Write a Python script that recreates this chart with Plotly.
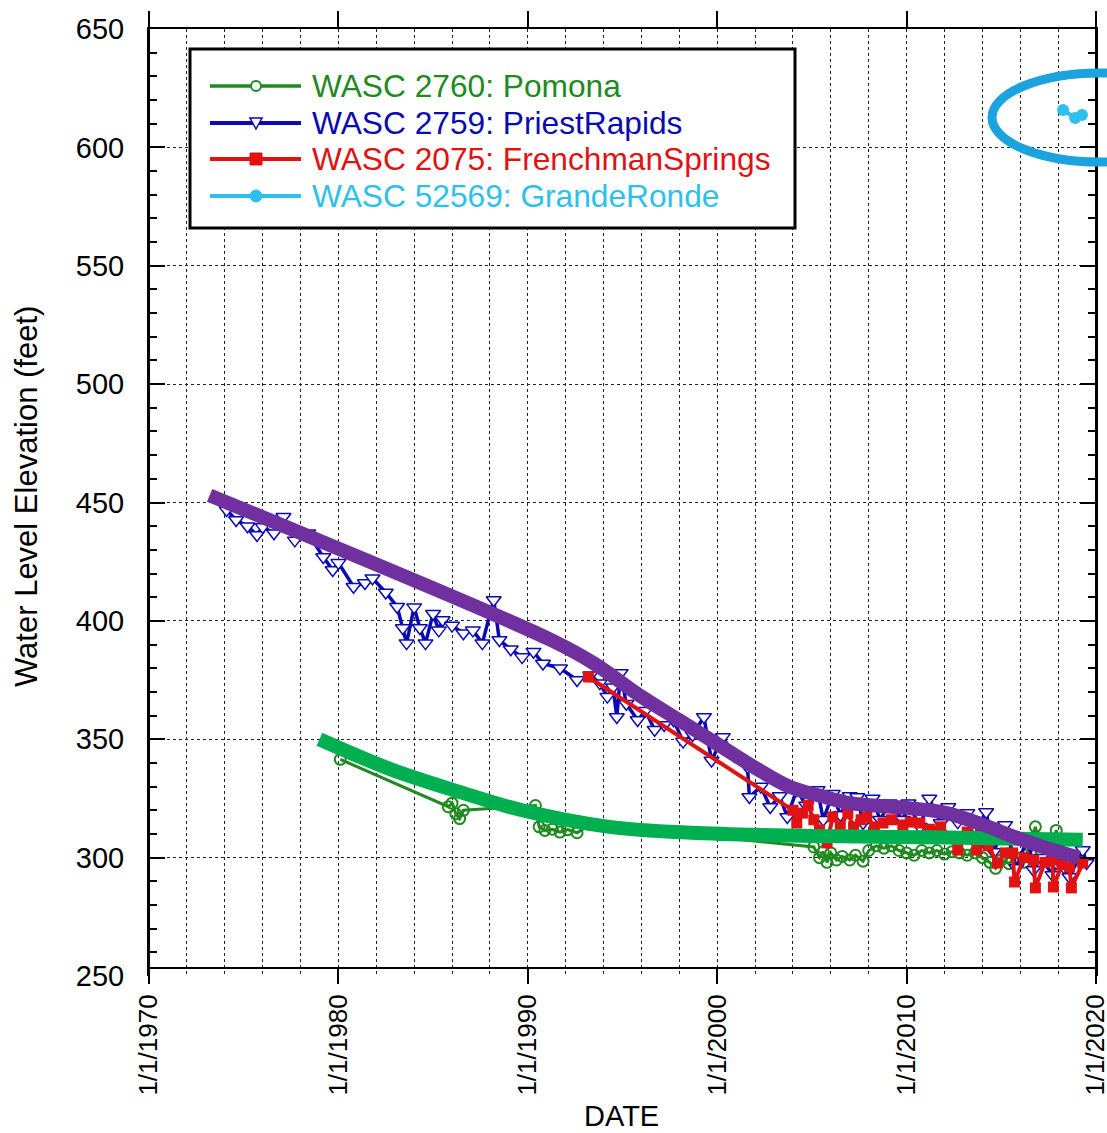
import plotly.graph_objects as go

# ---------------- data (decimal years, feet) ----------------
pomona_x = [1980.1, 1985.8, 1986.0, 1986.2, 1986.4, 1986.6,
            1990.4, 1990.6, 1990.9, 1991.3, 1991.7, 1992.1, 1992.6, 1993.3,
            2005.1, 2005.4, 2005.6, 2005.8, 2006.0, 2006.3, 2006.6, 2007.0, 2007.3, 2007.7,
            2008.0, 2008.4, 2008.8, 2009.2, 2009.6, 2010.0, 2010.4, 2010.8, 2011.2, 2011.6,
            2012.0, 2012.4, 2012.8, 2013.2, 2013.6, 2014.0, 2014.4, 2014.7, 2015.0, 2015.4,
            2015.8, 2016.2, 2016.5, 2016.8, 2017.1, 2017.5, 2017.9, 2018.2, 2018.6]
pomona_y = [341.5, 321.5, 323.0, 318.5, 316.5, 320.0,
            322.0, 313.0, 311.5, 312.0, 310.8, 311.8, 310.5, 314.0,
            304.5, 300.0, 302.5, 298.0, 302.0, 299.0, 300.5, 299.0, 301.0, 298.5,
            303.0, 305.0, 304.0, 305.0, 303.0, 302.0, 301.0, 303.0, 302.0, 303.0,
            301.5, 302.5, 302.0, 301.0, 302.0, 300.0, 298.0, 295.5, 299.0, 297.5,
            300.0, 298.0, 305.0, 313.0, 303.0, 299.0, 311.5, 302.0, 299.0]

priest_x = [1974.1, 1974.6, 1975.2, 1975.7, 1976.0, 1976.6, 1977.1, 1977.7, 1978.4, 1979.2,
            1979.7, 1980.0, 1980.8, 1981.4, 1981.8, 1982.5, 1983.1, 1983.4, 1983.6, 1984.0,
            1984.3, 1984.6, 1985.0, 1985.3, 1985.5, 1986.0, 1986.6, 1987.1, 1987.6, 1988.2,
            1988.5, 1989.1, 1989.7, 1990.3, 1990.8, 1991.7, 1992.6, 1993.3, 1993.8, 1994.2,
            1994.5, 1994.7, 1994.9, 1995.2, 1995.8, 1996.2, 1996.7, 1997.2, 1997.7, 1998.2,
            1998.7, 1999.3, 1999.7, 2000.3, 2000.9, 2001.6, 2001.7, 2002.3, 2002.8, 2003.3,
            2003.7, 2004.2, 2004.7, 2005.3, 2005.6, 2006.1, 2006.5, 2007.0, 2007.4, 2007.7,
            2008.2, 2008.6, 2009.1, 2009.8, 2010.1, 2010.7, 2011.2, 2011.8, 2012.2, 2012.7,
            2013.2, 2013.7, 2014.2, 2014.6, 2015.2, 2015.8, 2016.4, 2016.7, 2017.1, 2017.7,
            2017.9, 2018.3, 2018.6, 2019.3, 2019.5]
priest_y = [446.8, 442.6, 440.0, 436.3, 439.7, 437.0, 444.0, 434.0, 437.0, 427.0,
            421.5, 424.5, 414.4, 416.0, 418.0, 412.0, 406.0, 397.0, 390.6, 405.8,
            397.0, 390.6, 403.0, 396.0, 400.4, 398.0, 394.8, 396.0, 390.6, 408.8,
            391.9, 388.0, 384.7, 387.0, 382.0, 380.0, 375.0, 377.0, 373.7, 368.0,
            372.0, 359.4, 378.0, 365.0, 358.1, 362.0, 354.0, 356.0, 358.0, 349.0,
            351.8, 359.4, 341.0, 351.0, 343.0, 338.3, 325.6, 330.0, 321.4, 326.0,
            317.2, 328.6, 322.0, 328.6, 316.0, 327.0, 318.0, 326.0, 325.6, 314.6,
            325.0, 316.0, 323.0, 316.0, 323.0, 313.0, 325.0, 314.6, 321.4, 315.0,
            318.8, 312.0, 319.3, 302.4, 313.8, 295.6, 308.7, 294.8, 300.0, 292.7,
            297.7, 296.0, 291.8, 303.2, 297.7]

french_x = [1993.2, 2004.0, 2004.2, 2004.5, 2004.8, 2005.1, 2005.4, 2005.8, 2006.1, 2006.5,
            2006.9, 2007.2, 2007.6, 2007.9, 2008.3, 2008.75, 2009.2, 2009.8, 2010.2, 2010.7,
            2011.2, 2011.8, 2012.3, 2012.7, 2013.2, 2013.7, 2013.9, 2014.3, 2014.8, 2015.2,
            2015.6, 2015.7, 2016.2, 2016.7, 2016.8, 2017.3, 2017.7, 2017.75, 2018.2, 2018.6,
            2018.7, 2019.3]
french_y = [376.3, 320.0, 314.6, 318.8, 322.0, 316.0, 311.7, 306.2, 317.2, 313.0,
            318.8, 313.0, 316.0, 317.2, 313.0, 314.6, 316.0, 313.8, 315.0, 314.6,
            312.0, 313.0, 309.0, 303.2, 310.8, 303.2, 310.4, 305.0, 297.7, 302.0,
            302.0, 289.7, 300.0, 299.0, 287.2, 298.0, 299.0, 287.6, 297.0, 296.0,
            287.2, 297.7]

grande_x = [2018.26, 2018.9, 2019.26]
grande_y = [615.8, 612.4, 613.7]

# hand-drawn trend lines
purple_x = [1973.2, 1991.2, 1993.5, 1996.0, 1998.0, 2000.0, 2002.0, 2003.8, 2005.5,
            2007.0, 2010.0, 2012.0, 2014.0, 2015.6, 2017.4, 2019.1]
purple_y = [453.0, 392.0, 382.0, 368.0, 358.0, 348.0, 338.0, 330.0, 326.0,
            323.0, 321.0, 319.0, 314.0, 309.0, 304.0, 300.0]
green_x = [1979.0, 1982.7, 1986.3, 1989.7, 1994.3, 1998.6, 2006.5, 2012.0, 2019.3]
green_y = [350.0, 337.5, 328.0, 320.0, 313.0, 310.5, 309.0, 308.5, 307.5]

names = ["WASC 2760: Pomona", "WASC 2759: PriestRapids",
         "WASC 2075: FrenchmanSprings", "WASC 52569: GrandeRonde"]
x_ticks = [1970, 1980, 1990, 2000, 2010, 2020]

C_GREEN = "#1F8A1F"
C_BLUE = "#0A0AB4"
C_RED = "#E01212"
C_CYAN = "#2EC0EC"
C_PURPLE = "#7030A0"
C_TREND_GREEN = "#00B050"
C_ELLIPSE = "#1BA3E0"
FONT = "Liberation Sans, Arial, sans-serif"

# ---------------- figure geometry ----------------
W, H = 1107, 1133
L, R, T, B = 149, 11, 29, 157
PW, PH = W - L - R, H - T - B


def px(x):
    return (x - L) / PW


def py(y):
    return (H - B - y) / PH


fig = go.Figure()

fig.add_trace(go.Scatter(x=pomona_x, y=pomona_y, mode="lines+markers", name=names[0],
                         line=dict(color=C_GREEN, width=3),
                         marker=dict(symbol="circle-open", size=11, color=C_GREEN,
                                     line=dict(width=2, color=C_GREEN))))
fig.add_trace(go.Scatter(x=priest_x, y=priest_y, mode="lines+markers", name=names[1],
                         line=dict(color=C_BLUE, width=3.5),
                         marker=dict(symbol="triangle-down", size=13, color="white",
                                     line=dict(width=1.5, color=C_BLUE))))
fig.add_trace(go.Scatter(x=french_x, y=french_y, mode="lines+markers", name=names[2],
                         line=dict(color=C_RED, width=4),
                         marker=dict(symbol="square", size=11, color=C_RED)))
fig.add_trace(go.Scatter(x=grande_x, y=grande_y, mode="lines+markers", name=names[3],
                         xaxis="x2",
                         line=dict(color=C_CYAN, width=4),
                         marker=dict(symbol="circle", size=12, color=C_CYAN)))
fig.add_trace(go.Scatter(x=green_x, y=green_y, mode="lines", showlegend=False,
                         line=dict(color=C_TREND_GREEN, width=14, shape="spline")))
fig.add_trace(go.Scatter(x=purple_x, y=purple_y, mode="lines", showlegend=False,
                         line=dict(color=C_PURPLE, width=14, shape="spline")))

grid = dict(gridcolor="#222222", griddash="dot", gridwidth=1.2)

fig.update_layout(
    width=W, height=H, showlegend=False,
    margin=dict(l=L, r=R, t=T, b=B, autoexpand=False),
    paper_bgcolor="white", plot_bgcolor="white",
    font=dict(family=FONT, color="black"),
    xaxis=dict(range=[1970, 2020], tickmode="array", tickvals=x_ticks,
               ticktext=["1/1/%d" % v for v in x_ticks], tickangle=-90,
               tickfont=dict(size=26, family=FONT), ticks="outside", ticklen=15,
               tickwidth=2, tickcolor="black", showline=True, linecolor="black",
               linewidth=2, anchor="free", position=8 / PH, ticklabelstandoff=0,
               ticklabeloverflow="allow",
               showgrid=True, **grid,
               minor=dict(tickmode="linear", tick0=1970, dtick=2, showgrid=True,
                          gridcolor="#222222", griddash="dot", gridwidth=1.2, ticks=""),
               zeroline=False),
    xaxis2=dict(range=[1970, 2020], overlaying="x", matches="x", side="top", anchor="y",
                tickmode="linear", tick0=1970, dtick=10, ticks="outside", ticklen=16,
                tickwidth=2, tickcolor="black", showticklabels=False, showline=True,
                linecolor="black", linewidth=2, showgrid=False, zeroline=False),
    yaxis=dict(range=[250, 650], tickmode="linear", tick0=250, dtick=50,
               tickfont=dict(size=29, family=FONT), ticks="inside", ticklen=16,
               tickwidth=2, tickcolor="black", showline=True, linecolor="black",
               linewidth=2, mirror="ticks", ticklabelstandoff=17,
               ticklabeloverflow="allow",
               showgrid=True, **grid,
               minor=dict(tickmode="linear", tick0=250, dtick=10, ticks="inside",
                          ticklen=8, tickwidth=2, tickcolor="black", showgrid=False),
               zeroline=False),
)

shapes = []
# axis line extensions (left / right)
for xx in (0, 1):
    shapes.append(dict(type="line", xref="paper", yref="paper", x0=xx, x1=xx,
                       y0=py(983), y1=py(13), line=dict(color="black", width=2)))
# circled highlight
shapes.append(dict(type="circle", xref="paper", yref="paper", x0=px(992), x1=px(1208),
                   y0=py(162), y1=py(73), line=dict(color=C_ELLIPSE, width=9)))
# legend box
shapes.append(dict(type="rect", xref="paper", yref="paper", x0=px(190), x1=px(795),
                   y0=py(228), y1=py(49), fillcolor="white",
                   line=dict(color="black", width=3), layer="above"))
rows = [86, 123, 159, 196]
colors = [C_GREEN, C_BLUE, C_RED, C_CYAN]
widths = [3.5, 4, 4, 4]
for r, c, w in zip(rows, colors, widths):
    shapes.append(dict(type="line", xref="paper", yref="paper", x0=px(210), x1=px(301),
                       y0=py(r), y1=py(r), line=dict(color=c, width=w), layer="above"))
mx = 256
# green open circle
shapes.append(dict(type="circle", xref="paper", yref="paper", x0=px(mx - 5), x1=px(mx + 5),
                   y0=py(rows[0] + 5), y1=py(rows[0] - 5), fillcolor="white",
                   line=dict(color=C_GREEN, width=2), layer="above"))
# blue open triangle
tri = "M %f %f L %f %f L %f %f Z" % (px(mx - 6), py(rows[1] - 5), px(mx + 6), py(rows[1] - 5),
                                     px(mx), py(rows[1] + 6))
shapes.append(dict(type="path", xref="paper", yref="paper", path=tri, fillcolor="white",
                   line=dict(color=C_BLUE, width=1.5), layer="above"))
# red square
shapes.append(dict(type="rect", xref="paper", yref="paper", x0=px(mx - 6), x1=px(mx + 6),
                   y0=py(rows[2] + 6), y1=py(rows[2] - 6), fillcolor=C_RED,
                   line=dict(color=C_RED, width=1), layer="above"))
# cyan filled circle
shapes.append(dict(type="circle", xref="paper", yref="paper", x0=px(mx - 6), x1=px(mx + 6),
                   y0=py(rows[3] + 6), y1=py(rows[3] - 6), fillcolor=C_CYAN,
                   line=dict(color=C_CYAN, width=1), layer="above"))
fig.update_layout(shapes=shapes)

annotations = []
for r, c, n in zip(rows, colors, names):
    annotations.append(dict(xref="paper", yref="paper", x=px(310), y=py(r), text=n,
                            showarrow=False, xanchor="left", yanchor="middle",
                            font=dict(size=31.7, color=c, family=FONT)))
annotations.append(dict(xref="paper", yref="paper", x=px(27), y=py(497),
                        text="Water Level Elevation (feet)", textangle=-90, showarrow=False,
                        xanchor="center", yanchor="middle",
                        font=dict(size=31, color="black", family=FONT)))
annotations.append(dict(xref="paper", yref="paper", x=px(621), y=py(1116), text="DATE",
                        showarrow=False, xanchor="center", yanchor="middle",
                        font=dict(size=29, color="black", family=FONT)))
fig.update_layout(annotations=annotations)

fig.write_html(
    "out.html",
    config={"displayModeBar": False},
    post_script="document.body.style.margin='0px';document.body.style.overflow='hidden';",
)
